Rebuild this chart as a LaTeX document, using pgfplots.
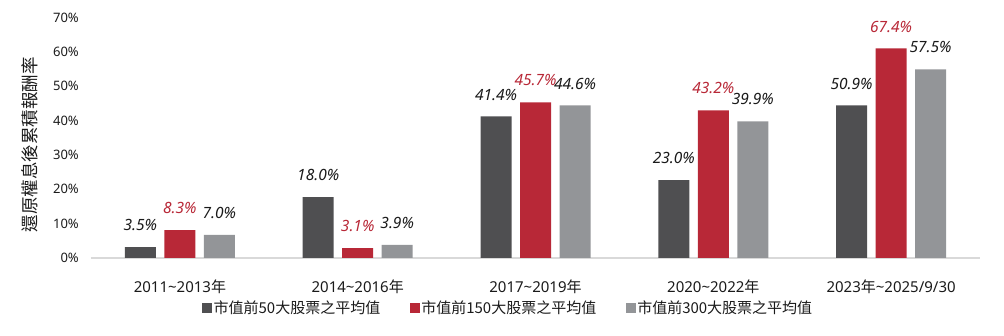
\documentclass[border=0pt]{standalone}
\usepackage{fontspec}
\setmainfont{Noto Sans}
\newfontfamily\cjk{Noto Sans CJK TC}
\usepackage{pgfplots}
\pgfplotsset{compat=1.18}
\definecolor{cdark}{HTML}{4F4F51}
\definecolor{cred}{HTML}{B82837}
\definecolor{cgray}{HTML}{939598}
\definecolor{ctext}{HTML}{1A1A1A}
\definecolor{cbase}{HTML}{D9D9D9}
\pgfplotsset{mylegend/.style={legend image code/.code={\fill[##1,draw=none] (0pt,-5pt) rectangle (10pt,5pt);}}}
\begin{document}
\begin{tikzpicture}
\useasboundingbox (-91pt,-78pt) rectangle (913pt,258pt);
\begin{axis}[
  at={(0pt,0pt)}, anchor=south west,
  width=889pt, height=240.5pt, scale only axis,
  xmin=-0.5, xmax=4.5, ymin=0, ymax=70,
  ybar=8.5pt, bar width=31pt,
  clip=false,
  axis x line*=bottom, axis y line*=left,
  x axis line style={draw=cbase, line width=1.3pt},
  y axis line style={draw=none},
  tick style={draw=none},
  ytick={0,10,20,30,40,50,60,70},
  yticklabels={0\%,10\%,20\%,30\%,40\%,50\%,60\%,70\%},
  yticklabel style={font=\fontsize{13}{13}\selectfont, text=ctext, anchor=east, inner sep=0pt, xshift=-12pt},
  xtick={0,1,2,3,4},
  xticklabels={2011\textasciitilde 2013{\cjk 年},2014\textasciitilde 2016{\cjk 年},2017\textasciitilde 2019{\cjk 年},2020\textasciitilde 2022{\cjk 年},2023{\cjk 年}\textasciitilde 2025/9/30},
  xticklabel style={font=\fontsize{15}{15}\selectfont, text=ctext, anchor=base, inner sep=0pt, yshift=-30.7pt},
  ylabel={\cjk 還原權息後累積報酬率},
  every axis y label/.style={at={(axis description cs:-0.0686,0.47)}, rotate=90, anchor=center, font=\fontsize{17.5}{17.5}\selectfont, text=ctext},
  point meta=explicit symbolic,
  nodes near coords,
  every node near coord/.append style={font=\fontsize{15.5}{15.5}\selectfont\itshape, anchor=south, inner sep=0pt, yshift=16pt},
  legend style={at={(axis description cs:0.469,-0.208)}, anchor=center, draw=none, fill=none,
    legend columns=3, font=\fontsize{15}{15}\selectfont\cjk, text=ctext,
    nodes={inner sep=1.5pt},
    /tikz/every even column/.append style={column sep=28pt}},
]
\addplot+[mylegend, fill=cdark, draw=none, every node near coord/.append style={text=ctext}] coordinates {
 (0,3.2) [3.5\%] (1,17.7) [18.0\%] (2,41.2) [41.4\%] (3,22.7) [23.0\%] (4,44.4) [50.9\%]};
\addplot+[mylegend, fill=cred, draw=none, every node near coord/.append style={text=cred}] coordinates {
 (0,8.1) [8.3\%] (1,2.9) [3.1\%] (2,45.3) [45.7\%] (3,43.0) [43.2\%] (4,61.0) [67.4\%]};
\addplot+[mylegend, fill=cgray, draw=none, every node near coord/.append style={text=ctext}] coordinates {
 (0,6.7) [7.0\%] (1,3.8) [3.9\%] (2,44.4) [44.6\%] (3,39.8) [39.9\%] (4,54.9) [57.5\%]};
\legend{市值前50大股票之平均值,市值前150大股票之平均值,市值前300大股票之平均值}
\end{axis}
\end{tikzpicture}
\end{document}
